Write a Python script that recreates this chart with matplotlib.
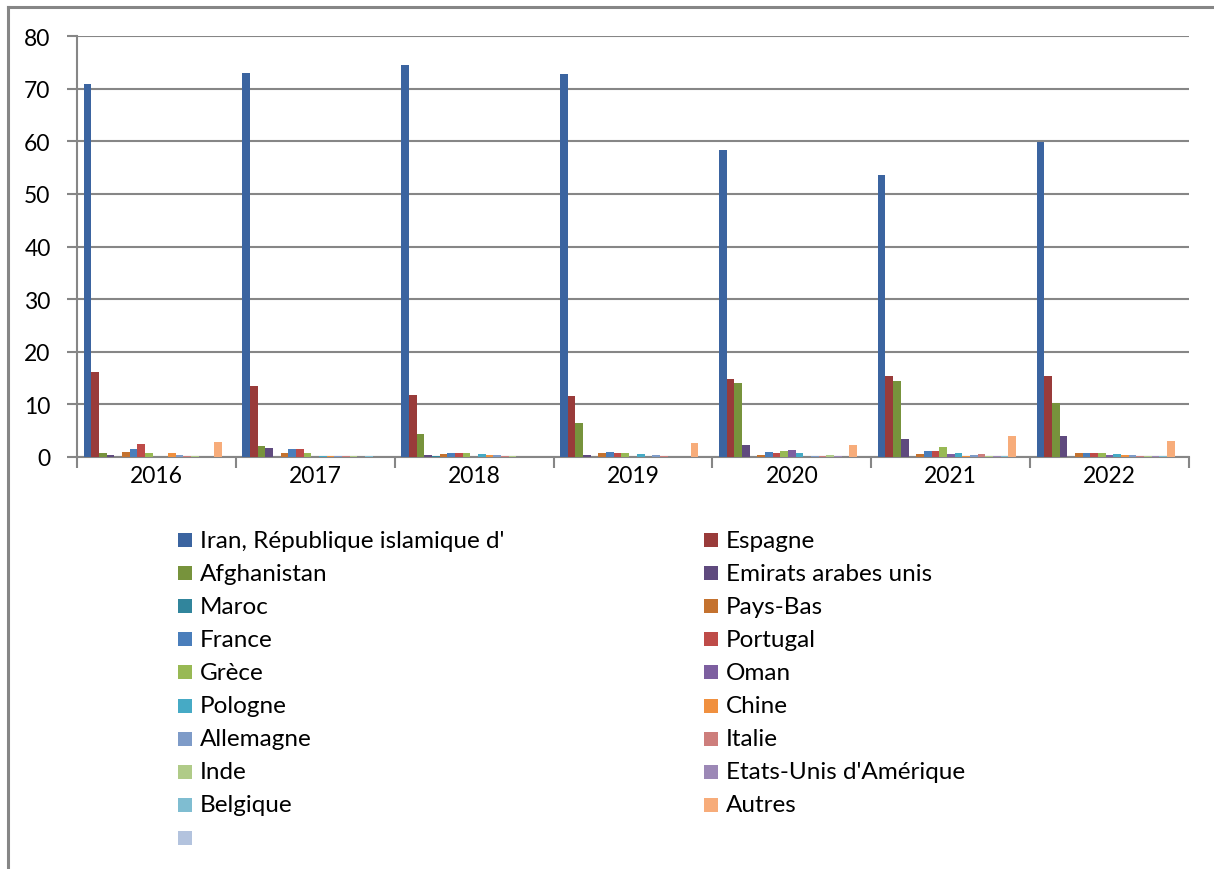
import matplotlib
matplotlib.use("Agg")
import matplotlib.pyplot as plt
from matplotlib.patches import Rectangle
from matplotlib.lines import Line2D
import numpy as np

years = ["2016", "2017", "2018", "2019", "2020", "2021", "2022"]

iran       = [70.9, 72.9, 74.5, 72.8, 58.3, 53.5, 59.9]
espagne    = [16.2, 13.4, 11.7, 11.6, 14.8, 15.3, 15.4]
afghanistan= [0.8, 2.1, 4.4, 6.4, 14.1, 14.4, 10.3]
emirats    = [0.4, 1.7, 0.4, 0.3, 2.3, 3.5, 4.0]
maroc      = [0.0, 0.0, 0.25, 0.0, 0.0, 0.0, 0.0]
pays_bas   = [0.95, 0.8, 0.6, 0.75, 0.4, 0.6, 0.8]
france     = [1.45, 1.5, 0.8, 0.95, 0.95, 1.1, 0.8]
portugal   = [2.5, 1.45, 0.8, 0.75, 0.8, 1.1, 0.8]
grece      = [0.7, 0.8, 0.8, 0.7, 1.2, 1.9, 0.7]
oman       = [0.0, 0.0, 0.0, 0.0, 1.4, 0.6, 0.45]
pologne    = [0.0, 0.2, 0.6, 0.5, 0.7, 0.75, 0.5]
chine      = [0.7, 0.2, 0.45, 0.0, 0.0, 0.2, 0.3]
allemagne  = [0.3, 0.2, 0.45, 0.3, 0.2, 0.4, 0.3]
italie     = [0.2, 0.2, 0.25, 0.2, 0.2, 0.6, 0.2]
inde       = [0.2, 0.2, 0.1, 0.05, 0.4, 0.2, 0.2]
etats_unis = [0.0, 0.0, 0.0, 0.0, 0.2, 0.2, 0.2]
belgique   = [0.0, 0.15, 0.0, 0.0, 0.0, 0.1, 0.1]
autres     = [2.9, 0.0, 0.0, 2.65, 2.3, 4.0, 3.0]
vide       = [0.0, 0.0, 0.0, 0.0, 0.0, 0.0, 0.0]

names = ["Iran, République islamique d'", "Espagne", "Afghanistan", "Emirats arabes unis",
         "Maroc", "Pays-Bas", "France", "Portugal", "Grèce", "Oman", "Pologne", "Chine",
         "Allemagne", "Italie", "Inde", "Etats-Unis d'Amérique", "Belgique", "Autres", ""]
series = [iran, espagne, afghanistan, emirats, maroc, pays_bas, france, portugal, grece,
          oman, pologne, chine, allemagne, italie, inde, etats_unis, belgique, autres, vide]
colors = ["#3B64A0", "#993B3A", "#77933C", "#5F4A7E", "#31859C", "#C4722F", "#4A7EBB",
          "#BE4B48", "#98B954", "#7D5FA0", "#46AAC5", "#F0903F", "#7E9BC8", "#CD7E7C",
          "#B0CB88", "#9C88B6", "#7FBDD1", "#F7AC7A", "#B3C3DE"]

plt.rcParams['font.family'] = ['Lato', 'DejaVu Sans']

W, H = 1214, 870
fig = plt.figure(figsize=(W / 100, H / 100), dpi=100)

def fx(px):
    return px / W

def fy(py):
    return 1 - py / H

ax = fig.add_axes([fx(77), fy(458), fx(1189) - fx(77), fy(37) - fy(458)])

n = len(series)
w = 1.0 / (n + 1.7)
x = np.arange(len(years))
for i, (vals, c) in enumerate(zip(series, colors)):
    ax.bar(x - n * w / 2 + (i + 0.5) * w, vals, width=w, color=c, edgecolor='none', zorder=3)

grid_c = "#868686"
ax.set_xlim(-0.5, len(years) - 0.5)
ax.set_ylim(0, 80)
ax.set_yticks(np.arange(0, 81, 10))
ax.tick_params(axis='y', length=7, width=1.5, color=grid_c, labelsize=16.5, pad=12, labelcolor='black')
ax.yaxis.grid(True, color=grid_c, linewidth=1.5, zorder=0)
ax.set_xticks(np.arange(len(years) + 1) - 0.5)
ax.set_xticklabels([])
ax.tick_params(axis='x', length=8, width=1.5, color=grid_c)
ax.set_xticks(x, minor=True)
ax.set_xticklabels(years, minor=True)
ax.tick_params(axis='x', which='minor', length=0, labelsize=16.5, pad=6)
for s in ['top', 'right']:
    ax.spines[s].set_visible(False)
for s in ['left', 'bottom']:
    ax.spines[s].set_color(grid_c)
    ax.spines[s].set_linewidth(1.5)

# outer frame
fig.add_artist(Line2D([fx(8), fx(8)], [fy(8), 0], color=grid_c, linewidth=2.2, transform=fig.transFigure))
fig.add_artist(Line2D([fx(8), 1], [fy(8), fy(8)], color=grid_c, linewidth=2.2, transform=fig.transFigure))

# legend (row-major, 2 columns)
row0 = 541
dy = 33.1
sq = 14
col_x = [178, 704]
for i, (name, c) in enumerate(zip(names, colors)):
    r, col = divmod(i, 2)
    cy = row0 + r * dy
    x0 = col_x[col]
    fig.add_artist(Rectangle((fx(x0), fy(cy + sq / 2)), fx(sq), sq / H, facecolor=c,
                             edgecolor='none', transform=fig.transFigure))
    if name:
        fig.text(fx(x0 + sq + 8), fy(cy), name, fontsize=17.5, va='center', ha='left', color='black')

fig.savefig("out.png", dpi=100)
